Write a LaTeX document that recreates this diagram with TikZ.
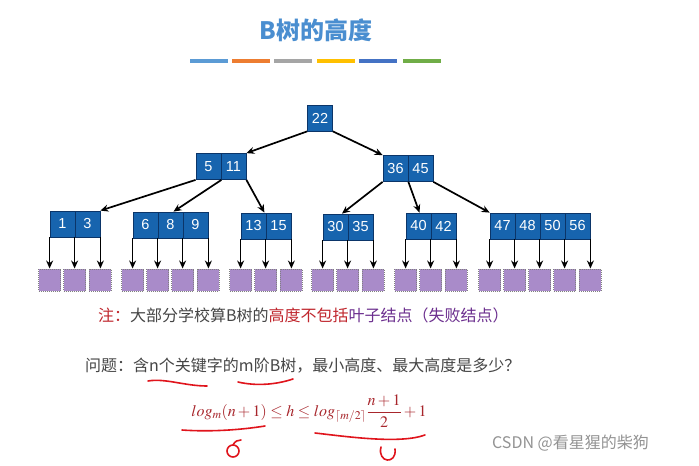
\documentclass[tikz,border=0pt]{standalone}
\usepackage{mathptmx}
\usepackage{fontspec}
\newfontfamily\cjk{Noto Sans CJK SC}
\newfontfamily\hv{Liberation Sans}
\usetikzlibrary{arrows.meta,calc}
\definecolor{titleblue}{HTML}{4A8ED0}
\definecolor{cellblue}{HTML}{1764AE}
\definecolor{cellnavy}{HTML}{0B3569}
\definecolor{leafpurple}{HTML}{A98BC9}
\definecolor{notered}{HTML}{C0262D}
\definecolor{notepurple}{HTML}{6B2E8E}
\definecolor{notegray}{HTML}{454545}
\definecolor{formred}{HTML}{A8262C}
\definecolor{penred}{HTML}{E0141C}
\definecolor{barA}{HTML}{5B9BD5}
\definecolor{barB}{HTML}{ED7D31}
\definecolor{barC}{HTML}{A5A5A5}
\definecolor{barD}{HTML}{FFC000}
\definecolor{barE}{HTML}{4472C4}
\definecolor{barF}{HTML}{70AD47}
\tikzset{
  cell/.style={draw=cellnavy, line width=0.8pt, fill=cellblue, text=white,
    minimum width=25pt, minimum height=26pt, inner sep=0pt,
    font=\hv\fontsize{14.5}{14.5}\selectfont},
  leaf/.style={draw=gray, densely dotted, line width=1pt, fill=leafpurple,
    minimum width=22pt, minimum height=22pt, inner sep=0pt},
  arr/.style={draw=black, line width=1.7pt, -{Stealth[length=8pt,width=7pt]}},
  bar/.style={line width=4pt},
  pen/.style={draw=penred, line width=1.6pt, line cap=round},
}
\newcommand\bnode[4]{%
  \foreach \k [count=\i] in {#4} {
    \node[cell] (#1\i) at ({#2+12.5+25*(\i-1)}, #3) {\k};
  }}
\newcommand\leaves[3]{%
  \foreach \i in {1,...,#2} {
    \node[leaf] (#1L\i) at (#1\i.south west |- 0,#3) {};
    \draw[arr] (#1\i.south west) -- (#1L\i);
  }
  \node[leaf] (#1Lx) at (#1#2.south east |- 0,#3) {};
  \draw[arr] (#1#2.south east) -- (#1Lx);
}
\begin{document}
\begin{tikzpicture}[x=1pt,y=-1pt]
\path[use as bounding box, fill=white] (0,0) rectangle (699,466);
% title
\node[text=titleblue, font=\cjk\bfseries\fontsize{24}{24}\selectfont] (title) at (316,30) {B树的高度};
\draw[bar, barA] (190,61) -- (228,61);
\draw[bar, barB] (232,61) -- (270,61);
\draw[bar, barC] (274,61) -- (312,61);
\draw[bar, barD] (317,61) -- (355,61);
\draw[bar, barE] (359,61) -- (397,61);
\draw[bar, barF] (403,61) -- (441,61);
% tree
\bnode{r}{307.5}{118}{22}
\bnode{b}{196}{166.5}{5,11}
\bnode{c}{383}{168.5}{36,45}
\bnode{d}{50}{224}{1,3}
\bnode{e}{133}{225}{6,8,9}
\bnode{f}{241}{226}{13,15}
\bnode{g}{323}{227}{30,35}
\bnode{h}{406}{226}{40,42}
\bnode{i}{490}{226}{47,48,50,56}
\draw[arr] (r1.south west) -- (b2.north east);
\draw[arr] (r1.south east) -- (c1.north west);
\draw[arr] (b1.south west) -- (d2.north east);
\draw[arr] (b1.south east) -- ($(e2.north)+(3,0)$);
\draw[arr] (b2.south east) -- ($(f1.north east)+(-2,0)$);
\draw[arr] (c1.south west) -- ($(g1.north)!0.5!(g1.north east)$);
\draw[arr] (c1.south east) -- ($(h1.north)+(1,0)$);
\draw[arr] (c2.south east) -- (i1.north west);
\leaves{d}{2}{280}
\leaves{e}{3}{280}
\leaves{f}{2}{280}
\leaves{g}{2}{280}
\leaves{h}{2}{280}
\leaves{i}{4}{280}
% note
\node[anchor=west, inner sep=0pt, font=\cjk\fontsize{16}{16}\selectfont] (note) at (98,315)
  {\textcolor{notered}{注：}\textcolor{notegray}{大部分学校算B树的}\textcolor{notered}{高度不包括}\textcolor{notepurple}{叶子结点（失败结点）}};
% question
\node[anchor=west, inner sep=0pt, text=notegray, font=\cjk\fontsize{16}{16}\selectfont] (q) at (85,366)
  {问题：含n个关键字的m阶B树，最小高度、最大高度是多少？};
% formula
\node[text=formred, inner sep=0pt, font=\fontsize{16}{18}\selectfont] (form) at (309,411)
  {$\displaystyle log_m(n+1) \le h \le log_{\lceil m/2\rceil}\frac{n+1}{2}+1$};
% pen marks
\draw[pen] (148,381) .. controls (165,378) and (185,386) .. (207,386);
\draw[pen] (238,382) .. controls (255,386) and (275,385) .. (293,379);
\draw[pen] (182,430) .. controls (210,432) and (240,430) .. (265,426);
\draw[pen] (315,433) .. controls (350,437) and (400,444) .. (425,435);
\draw[pen] (233,451) circle (6);
\draw[pen] (233,445) .. controls (235,441) and (238,440) .. (241,440);
\draw[pen] (381,447) .. controls (377,463) and (397,465) .. (395,449);
% watermark
\node[anchor=west, inner sep=0pt, text=gray!85, font=\cjk\fontsize{16}{16}\selectfont] (wm) at (492,443)
  {CSDN @看星猩的柴狗};
\end{tikzpicture}
\end{document}
